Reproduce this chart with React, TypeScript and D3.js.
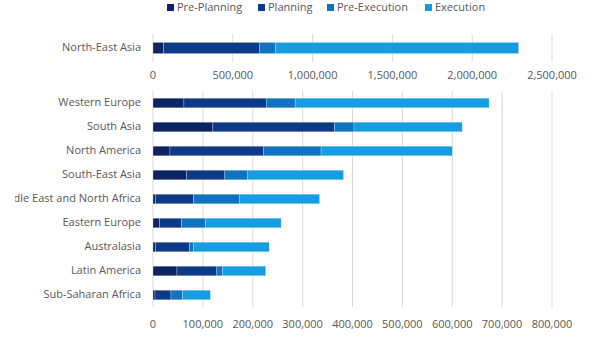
import React from "react";
import * as d3 from "d3";

const seriesNames = ["Pre-Planning", "Planning", "Pre-Execution", "Execution"];
const seriesColors = ["#0c2461", "#0b3b86", "#1172c0", "#169ce0"];

const topCategories = ["North-East Asia"];
const topPrePlanning = [67000];
const topPlanning = [599000];
const topPreExecution = [100000];
const topExecution = [1525000];
const topTicks = [0, 500000, 1000000, 1500000, 2000000, 2500000];

const categories = [
  "Western Europe",
  "South Asia",
  "North America",
  "South-East Asia",
  "Middle East and North Africa",
  "Eastern Europe",
  "Australasia",
  "Latin America",
  "Sub-Saharan Africa",
];
const prePlanning = [62000, 120000, 34000, 67000, 5000, 13000, 5000, 48000, 4000];
const planning = [165000, 244000, 188000, 77000, 76000, 44000, 68000, 80000, 32000];
const preExecution = [58000, 39000, 115000, 45000, 92000, 48000, 8000, 11000, 23000];
const execution = [389000, 217000, 263000, 193000, 161000, 152000, 152000, 87000, 56000];
const bottomTicks = [0, 100000, 200000, 300000, 400000, 500000, 600000, 700000, 800000];

const FONT = "'Open Sans', sans-serif";
const TEXT = "#595959";
const fmt = d3.format(",");

type Row = { cat: string; vals: number[] };

function Panel({
  rows,
  xDomain,
  ticks,
  yRange,
  tickY,
}: {
  rows: Row[];
  xDomain: [number, number];
  ticks: number[];
  yRange: [number, number];
  tickY: number;
}) {
  const x = d3.scaleLinear().domain(xDomain).range([153, 552]);
  const y = d3
    .scaleBand<string>()
    .domain(rows.map((r) => r.cat))
    .range(yRange)
    .paddingInner(0.6)
    .paddingOuter(0.3);
  const stack = d3
    .stack<Row, number>()
    .keys([0, 1, 2, 3])
    .value((d, k) => d.vals[k]);
  const layers = stack(rows);
  return (
    <g>
      {ticks.map((t) => (
        <g key={t}>
          <line
            x1={x(t)}
            x2={x(t)}
            y1={yRange[0]}
            y2={yRange[1]}
            stroke="#d9d9d9"
            strokeWidth={1}
          />
          <text
            x={x(t)}
            y={tickY}
            textAnchor="middle"
            dominantBaseline="middle"
            fontFamily={FONT}
            fontSize={11}
            fill={TEXT}
          >
            {fmt(t)}
          </text>
        </g>
      ))}
      <g clipPath="url(#labelClip)">
        {rows.map((r) => (
          <text
            key={r.cat}
            x={141}
            y={(y(r.cat) as number) + y.bandwidth() / 2}
            textAnchor="end"
            dominantBaseline="middle"
            fontFamily={FONT}
            fontSize={11}
            fill={TEXT}
          >
            {r.cat}
          </text>
        ))}
      </g>
      {layers.map((layer, i) => (
        <g key={i} fill={seriesColors[i]}>
          {layer.map((seg, j) => (
            <rect
              key={j}
              x={x(seg[0])}
              y={y(rows[j].cat)}
              width={Math.max(0, x(seg[1]) - x(seg[0]))}
              height={y.bandwidth()}
              stroke="#ffffff"
              strokeOpacity={0.5}
              strokeWidth={0.5}
            />
          ))}
        </g>
      ))}
    </g>
  );
}

export default function App() {
  const topRows: Row[] = topCategories.map((c, i) => ({
    cat: c,
    vals: [topPrePlanning[i], topPlanning[i], topPreExecution[i], topExecution[i]],
  }));
  const rows: Row[] = categories.map((c, i) => ({
    cat: c,
    vals: [prePlanning[i], planning[i], preExecution[i], execution[i]],
  }));
  const legendX = [167, 258, 327, 425];
  return (
    <svg
      width={592}
      height={349}
      style={{ position: "absolute", left: 0, top: 0, background: "#ffffff" }}
    >
      <defs>
        <clipPath id="labelClip">
          <rect x={15} y={0} width={577} height={349} />
        </clipPath>
      </defs>
      <rect width={592} height={349} fill="#ffffff" />
      {seriesNames.map((n, i) => (
        <g key={n}>
          <rect x={legendX[i]} y={4} width={7} height={7} fill={seriesColors[i]} />
          <text
            x={legendX[i] + 10}
            y={8}
            dominantBaseline="middle"
            fontFamily={FONT}
            fontSize={11}
            fill={TEXT}
          >
            {n}
          </text>
        </g>
      ))}
      <Panel rows={topRows} xDomain={[0, 2500000]} ticks={topTicks} yRange={[34, 62]} tickY={76} />
      <Panel rows={rows} xDomain={[0, 800000]} ticks={bottomTicks} yRange={[91, 307]} tickY={325} />
    </svg>
  );
}
